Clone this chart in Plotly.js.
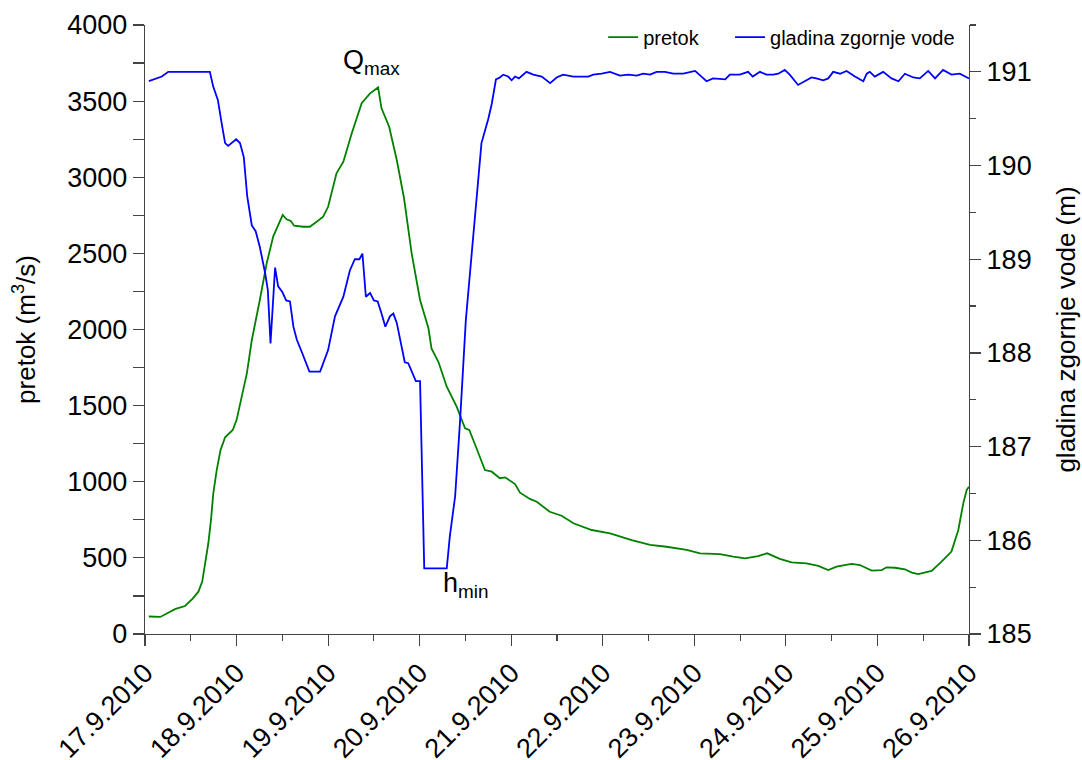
<!DOCTYPE html>
<html>
<head>
<meta charset="utf-8">
<script src="https://cdn.plot.ly/plotly-3.0.1.min.js"></script>
<style>html,body{margin:0;padding:0;background:#fff;}#chart{width:1082px;height:760px;}</style>
</head>
<body>
<div id="chart"></div>
<script>
// hours since 17.9.2010 00:00
const flowHours = [1,4,8,10.5,12.5,14,15,15.7,16.6,17.3,17.9,18.8,19.8,21,23,24,25.3,26.7,28,29.1,30.1,31.9,33.6,36.1,37.1,38.2,39.1,41.5,43.2,45,46.7,48,49.4,50.2,52,54.2,56.8,59,61.1,62,64,66,67.9,69.9,72.1,74.3,75.1,76.9,79.1,81.7,83.9,85,86.9,89.1,90.9,93,94.4,97,98.3,100.9,102.7,106.1,109.2,112.3,117.1,121.9,127.6,132.4,136.7,142,145.5,150.7,154.2,157.3,160.7,163.1,166.4,169.5,173.4,176.5,179.1,181.3,185.2,187.4,190.5,193.1,194.4,196.6,199.2,201,202.7,206.2,208.8,211.4,213.2,214.5,215.4,216];
const flowValues = [115,112,165,184,232,278,344,442,596,749,924,1077,1208,1292,1340,1405,1559,1712,1931,2062,2194,2435,2610,2752,2724,2713,2682,2675,2675,2708,2741,2806,2938,3026,3102,3289,3486,3551,3590,3453,3332,3113,2862,2500,2194,2008,1876,1788,1624,1493,1351,1340,1220,1077,1066,1023,1029,985,928,887,869,803,777,727,683,661,617,585,573,552,530,525,508,497,512,530,493,471,464,447,420,442,460,453,416,420,438,435,425,403,394,414,475,541,683,858,946,967];

const levelHours = [1,2.2,4.4,6.1,17,17.9,19.1,20.1,21,21.8,23.9,24.9,25.9,26.8,28,29,30.1,31.5,32.2,32.9,34.1,34.9,36,37,38,38.9,39.8,41.1,43.1,45.9,46.7,48,49.8,52,53.7,55,56.2,57,57.9,59,60,61,62,63,64.2,65.1,66,67,68.1,69,70.2,71,72.1,73.2,79.1,79.9,81.3,82.6,84.1,86,88.2,90,90.9,92,93,93.9,95.2,96.1,97,98,100,101.8,104,106.2,107.9,109.6,112.3,114.5,116.2,117.5,119.7,121.9,124.5,126.7,128.9,130.6,132.4,134.1,136.3,138.5,141.1,144.2,147.2,148.9,152.1,153.3,155.9,158.1,159.3,161.2,162.9,164.7,166,167.7,169,171.2,174.7,176,177.8,179.1,180.4,182.2,183.9,186.1,188.3,189.2,190,191.3,193.5,195.7,197.5,199.2,201.4,203.1,205.3,207.1,209.2,211.4,213.6,216];
const levelValues = [190.90,190.92,190.95,191.00,191.00,190.84,190.70,190.45,190.24,190.21,190.28,190.24,190.09,189.67,189.36,189.30,189.13,188.85,188.67,188.10,188.91,188.71,188.65,188.56,188.55,188.28,188.14,188.01,187.80,187.80,187.89,188.03,188.39,188.60,188.88,189.00,189.00,189.06,188.60,188.64,188.56,188.55,188.42,188.28,188.39,188.42,188.32,188.10,187.90,187.89,187.78,187.70,187.70,185.70,185.70,186.04,186.47,187.28,188.35,189.24,190.24,190.50,190.66,190.92,190.94,190.97,190.95,190.91,190.95,190.93,191.00,190.97,190.95,190.88,190.94,190.97,190.95,190.95,190.95,190.97,190.98,191.00,190.96,190.97,190.96,190.98,190.97,191.00,191.00,190.98,190.98,191.01,190.90,190.93,190.92,190.97,190.97,191.00,190.95,191.00,190.97,190.97,190.98,191.02,190.97,190.86,190.94,190.93,190.91,190.93,191.00,190.98,191.01,190.95,190.90,190.98,191.00,190.95,191.00,190.93,190.90,190.98,190.94,190.93,191.01,190.93,191.02,190.97,190.98,190.93];

const xStart = '2010-09-17 00:00';
const xEnd = '2010-09-26 00:00';
const flowName = 'pretok';
const levelName = 'gladina zgornje vode';

function pad(n){return (n<10?'0':'')+n;}
function toDate(h){
  const tm = Math.round(h*60);
  const d = 17 + Math.floor(tm/1440);
  const r = tm % 1440;
  return '2010-09-' + pad(d) + ' ' + pad(Math.floor(r/60)) + ':' + pad(r%60);
}

const FONT = 'Arial, "Liberation Sans", sans-serif';

const traces = [
  {x: flowHours.map(toDate), y: flowValues, name: flowName, type: 'scatter', mode: 'lines',
   line: {color: '#008000', width: 1.8}, yaxis: 'y', legend: 'legend'},
  {x: levelHours.map(toDate), y: levelValues, name: levelName, type: 'scatter', mode: 'lines',
   line: {color: '#0000ff', width: 1.8}, yaxis: 'y2', legend: 'legend2'}
];

const axisColor = '#444';
const legendBase = {orientation: 'h', xanchor: 'left', y: 1.012, yanchor: 'top',
  font: {size: 20, family: FONT}, bgcolor: 'rgba(0,0,0,0)'};
const layout = {
  width: 1082, height: 760,
  margin: {l: 145, r: 113, t: 25, b: 126, autoexpand: false},
  paper_bgcolor: '#fff', plot_bgcolor: '#fff',
  font: {family: FONT, size: 27, color: '#000'},
  showlegend: true,
  legend: Object.assign({}, legendBase, {x: 0.556}),
  legend2: Object.assign({}, legendBase, {x: 0.71}),
  xaxis: {
    type: 'date', range: [xStart, xEnd], dtick: 86400000, tick0: xStart,
    tickformat: '%-d.%-m.%Y', tickangle: -45,
    showgrid: false, zeroline: false, showline: true, linecolor: axisColor, linewidth: 1.2,
    ticks: 'outside', ticklen: 11, tickcolor: axisColor, tickwidth: 1.2,
    minor: {dtick: 43200000, ticks: 'outside', ticklen: 6, tickcolor: axisColor, tickwidth: 1.2, showgrid: false},
    tickfont: {size: 27, family: FONT}
  },
  yaxis: {
    range: [0, 4000], dtick: 500, showgrid: false, zeroline: false,
    showline: true, linecolor: axisColor, linewidth: 1.2,
    ticks: 'outside', ticklen: 11, tickcolor: axisColor, tickwidth: 1.2,
    minor: {dtick: 250, ticks: 'outside', ticklen: 11, tickcolor: axisColor, tickwidth: 1.2, showgrid: false},
    tickfont: {size: 27, family: FONT},
    title: {text: 'pretok (m<sup>3</sup>/s)', font: {size: 26, family: FONT}, standoff: 24}
  },
  yaxis2: {
    overlaying: 'y', side: 'right', range: [185, 191.5], dtick: 1, tick0: 185,
    showgrid: false, zeroline: false, showline: true, linecolor: axisColor, linewidth: 1.2,
    ticks: 'outside', ticklen: 11, tickcolor: axisColor, tickwidth: 1.2,
    minor: {dtick: 0.5, ticks: 'outside', ticklen: 6, tickcolor: axisColor, tickwidth: 1.2, showgrid: false},
    tickfont: {size: 27, family: FONT},
    title: {text: 'gladina zgornje vode (m)', font: {size: 26, family: FONT}, standoff: 26}
  },
  annotations: [
    {text: 'Q<sub>max</sub>', xref: 'paper', yref: 'paper', x: 0.2745, y: 0.939,
     showarrow: false, font: {size: 27, family: FONT}, xanchor: 'center', yanchor: 'middle'},
    {text: 'h<sub>min</sub>', xref: 'paper', yref: 'paper', x: 0.389, y: 0.0805,
     showarrow: false, font: {size: 27, family: FONT}, xanchor: 'center', yanchor: 'middle'}
  ]
};

Plotly.newPlot('chart', traces, layout, {displayModeBar: false, staticPlot: true});
</script>
</body>
</html>
